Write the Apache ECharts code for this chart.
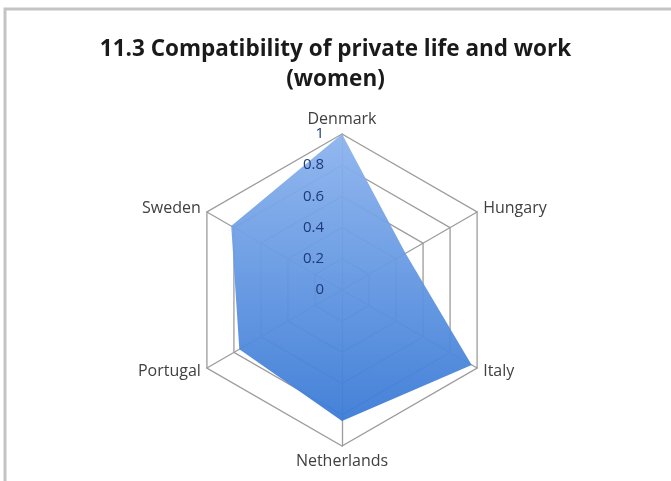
<!DOCTYPE html>
<html lang="en">
<head>
    <meta charset="UTF-8">
    <script src="https://cdn.jsdelivr.net/npm/echarts@6/dist/echarts.min.js"></script>
    <title>Compatibility of private life and work (women)</title>
</head>
<body style="margin:0;background:#fff;">
<div id="main" style="width:671px;height:481px;"></div>

<script type="text/javascript">
    // data (clockwise from the top)
    var countries = ['Denmark', 'Hungary', 'Italy', 'Netherlands', 'Portugal', 'Sweden'];
    var womenValues = [1.0, 0.47, 0.96, 0.84, 0.76, 0.82];
    var scaleMax = 1;
    var scaleStep = 0.2;

    var myChart = echarts.init(document.getElementById('main'));

    // echarts radar runs counter-clockwise, so keep the first one and reverse the rest
    var order = [0];
    for (var k = countries.length - 1; k > 0; k--) order.push(k);
    var indicators = [];
    var values = [];
    for (var i = 0; i < order.length; i++) {
        indicators.push({name: countries[order[i]], min: 0, max: scaleMax});
        values.push(womenValues[order[i]]);
    }

    var center = [342, 290];
    var radius = 156;
    var font = '"Open Sans", "DejaVu Sans", sans-serif';

    var option = {
        backgroundColor: '#fff',
        title: {
            text: '11.3 Compatibility of private life and work\n(women)',
            left: 'center',
            top: 30,
            textStyle: {
                fontFamily: font,
                fontSize: 22.5,
                fontWeight: 'bold',
                color: '#1a1a1a',
                lineHeight: 30
            }
        },
        graphic: [{
            type: 'rect',
            shape: {x: 5, y: 9, width: 700, height: 500},
            style: {fill: 'none', stroke: '#c4c4c4', lineWidth: 3},
            silent: true
        }],
        radar: {
            center: center,
            radius: radius,
            startAngle: 90,
            shape: 'polygon',
            splitNumber: scaleMax / scaleStep,
            indicator: indicators,
            axisName: {
                color: '#404040',
                fontFamily: font,
                fontSize: 16
            },
            nameGap: 7,
            axisLine: {lineStyle: {color: '#9c9c9c', width: 1.3}},
            splitLine: {lineStyle: {color: '#9c9c9c', width: 1.3}},
            splitArea: {show: false}
        },
        polar: {center: center, radius: radius},
        angleAxis: {show: false, startAngle: 90, min: 0, max: 360},
        radiusAxis: {
            min: 0,
            max: scaleMax,
            interval: scaleStep,
            axisLine: {show: false},
            axisTick: {show: false},
            splitLine: {show: false},
            axisLabel: {
                color: '#1f3a78',
                fontFamily: font,
                fontSize: 15,
                margin: 18
            },
            z: 10
        },
        series: [{
            name: 'Women',
            type: 'radar',
            symbol: 'none',
            lineStyle: {width: 0},
            areaStyle: {
                opacity: 0.95,
                color: new echarts.graphic.LinearGradient(0, 0, 0, 1, [
                    {offset: 0, color: '#8db4ee'},
                    {offset: 1, color: '#3b7bd6'}
                ])
            },
            data: [{value: values, name: 'Women'}]
        }]
    };
    myChart.setOption(option);
</script>
</body>
</html>
